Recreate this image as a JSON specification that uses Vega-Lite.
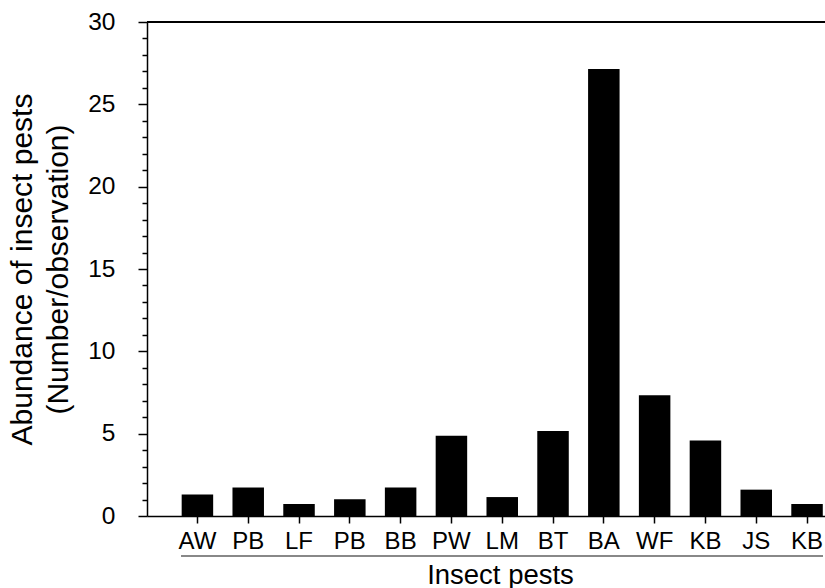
{
  "$schema": "https://vega.github.io/schema/vega-lite/v6.json",
  "autosize": {"type": "none"},
  "padding": {"left": 147, "top": 22, "right": 0, "bottom": 72},
  "width": 678,
  "height": 494,
  "config": {
    "view": {"stroke": null},
    "font": "Liberation Sans",
    "axis": {
      "labelFont": "Liberation Sans",
      "titleFont": "Liberation Sans",
      "labelColor": "#000",
      "titleColor": "#000",
      "domainColor": "#000",
      "tickColor": "#000",
      "titleFontWeight": "normal",
      "grid": false,
      "domainWidth": 1.5,
      "tickWidth": 1.5
    }
  },
  "data": {
    "values": [
      {"pest": "AW", "abundance": 1.30},
      {"pest": "PB_1", "abundance": 1.73},
      {"pest": "LF", "abundance": 0.73},
      {"pest": "PB_2", "abundance": 1.01},
      {"pest": "BB", "abundance": 1.73},
      {"pest": "PW", "abundance": 4.88},
      {"pest": "LM", "abundance": 1.15},
      {"pest": "BT", "abundance": 5.16},
      {"pest": "BA", "abundance": 27.14},
      {"pest": "WF", "abundance": 7.33},
      {"pest": "KB_1", "abundance": 4.58},
      {"pest": "JS", "abundance": 1.60},
      {"pest": "KB_2", "abundance": 0.73}
    ]
  },
  "layer": [
    {
      "mark": {"type": "bar", "color": "#000"},
      "encoding": {
        "x": {
          "field": "pest",
          "type": "nominal",
          "sort": null,
          "scale": {
            "domain": ["AW", "PB_1", "LF", "PB_2", "BB", "PW", "LM", "BT", "BA", "WF", "KB_1", "JS", "KB_2"],
            "paddingInner": 0.38,
            "paddingOuter": 0.363,
            "align": 0.94
          },
          "axis": {
            "labelExpr": "split(datum.label, '_')[0]",
            "labelAngle": 0,
            "labelFontSize": 24,
            "tickSize": 7,
            "labelPadding": 6,
            "title": "Insect pests",
            "titleFontSize": 27.5,
            "titlePadding": 8,
            "titleX": 353,
            "titleAnchor": "middle",
            "titleAlign": "center"
          }
        },
        "y": {
          "field": "abundance",
          "type": "quantitative",
          "scale": {"domain": [0, 30], "nice": false},
          "axis": {
            "values": [0,1,2,3,4,5,6,7,8,9,10,11,12,13,14,15,16,17,18,19,20,21,22,23,24,25,26,27,28,29,30],
            "tickCount": 40,
            "labelExpr": "datum.value % 5 === 0 ? datum.label : ''",
            "labelOverlap": false,
            "labelFlush": false,
            "tickSize": {"condition": {"test": "datum.value % 5 === 0", "value": 9}, "value": 5},
            "labelFontSize": 24.5,
            "labelPadding": 23,
            "title": ["Abundance of insect pests", "(Number/observation)"],
            "titleFontSize": 30,
            "titleLineHeight": 36,
            "titlePadding": 14
          }
        }
      }
    },
    {
      "mark": {"type": "rule", "color": "#000", "strokeWidth": 1.5},
      "encoding": {"y": {"datum": 30}}
    },
    {
      "mark": {"type": "rule", "color": "#888", "strokeWidth": 1.5},
      "encoding": {
        "x": {"datum": "AW", "bandPosition": 0},
        "x2": {"datum": "KB_2", "bandPosition": 1},
        "y": {"datum": -2.43}
      }
    }
  ]
}
